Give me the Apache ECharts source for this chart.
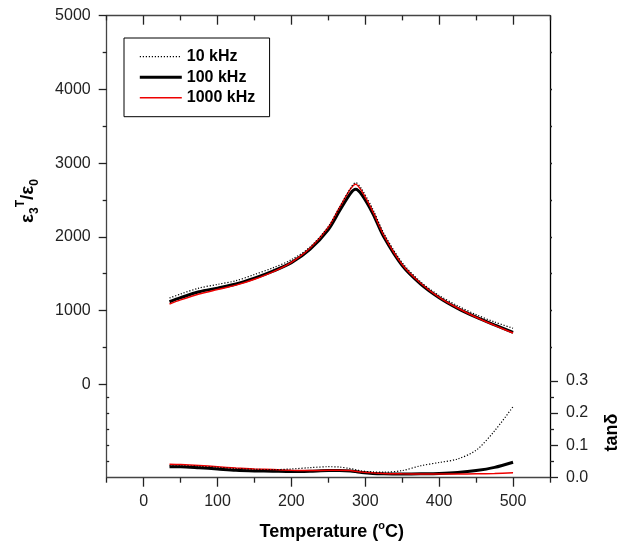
<!DOCTYPE html>
<html><head><meta charset="utf-8">
<script src="https://cdn.jsdelivr.net/npm/echarts@6/dist/echarts.min.js"></script>
<style>html,body{margin:0;padding:0;background:#fff}#c{width:629px;height:545px}</style>
</head><body><div id="c"></div>
<script>
// ---- data ----
const temperature = [35, 50, 75, 100, 125, 150, 175, 200, 225, 250, 265, 280, 287, 295, 310, 325, 350, 375, 400, 425, 450, 475, 500];
const eps10k   = [1170, 1225, 1305, 1355, 1405, 1490, 1580, 1690, 1860, 2140, 2400, 2660, 2735, 2650, 2380, 2050, 1650, 1390, 1205, 1065, 945, 845, 760];
const eps100k  = [1120, 1175, 1255, 1305, 1360, 1440, 1535, 1650, 1830, 2100, 2350, 2590, 2645, 2575, 2320, 2000, 1610, 1360, 1175, 1030, 910, 805, 705];
const eps1000k = [1090, 1145, 1225, 1285, 1345, 1425, 1525, 1655, 1845, 2130, 2395, 2650, 2715, 2625, 2350, 2025, 1625, 1370, 1180, 1035, 910, 800, 695];
const tan10k   = [0.037, 0.037, 0.035, 0.032, 0.028, 0.026, 0.025, 0.027, 0.031, 0.034, 0.033, 0.028, 0.025, 0.021, 0.018, 0.017, 0.022, 0.037, 0.047, 0.058, 0.085, 0.145, 0.22];
const tan100k  = [0.034, 0.034, 0.031, 0.027, 0.023, 0.021, 0.020, 0.019, 0.020, 0.022, 0.022, 0.021, 0.019, 0.016, 0.013, 0.012, 0.0115, 0.012, 0.013, 0.016, 0.022, 0.032, 0.048];
const tan1000k = [0.042, 0.041, 0.038, 0.034, 0.030, 0.027, 0.025, 0.023, 0.022, 0.023, 0.023, 0.022, 0.020, 0.018, 0.015, 0.013, 0.012, 0.0115, 0.0115, 0.0115, 0.012, 0.013, 0.015];
const seriesNames = ['10 kHz', '100 kHz', '1000 kHz'];
const xMajorTicks = [0, 100, 200, 300, 400, 500];
const xMinorTicks = [-50, 50, 150, 250, 350, 450, 550];
const epsMajorTicks = [0, 1000, 2000, 3000, 4000, 5000];
const epsMinorTicks = [500, 1500, 2500, 3500, 4500];
const epsRightTicks = [500, 1000, 1500, 2000, 2500, 3000, 3500, 4000, 4500];
const tanMajorTicks = [0, 0.1, 0.2, 0.3];
const tanMinorTicks = [0.05, 0.15, 0.25];
const tanLeftTicks = [0.05, 0.1, 0.15, 0.2, 0.25];

// ---- chart ----
const FONT = '"Liberation Sans", Arial, Helvetica, sans-serif';
const pairs = (xs, ys) => xs.map((x, i) => [x, ys[i]]);
const X_MIN = -50, X_MAX = 550;
const EPS_MIN = -1267, EPS_MAX = 5000;
const TAN_MIN = 0, TAN_MAX = 1.43;

function xAx(pos, ticks, len, inside, showLine, labels) {
  return {
    type: 'value', position: pos, min: X_MIN, max: X_MAX,
    axisLine: { show: showLine, onZero: false, lineStyle: { color: '#444', width: 1.3 } },
    axisTick: { show: true, inside: inside, length: len, customValues: ticks, lineStyle: { color: '#222', width: 1.3 } },
    axisLabel: labels ? { show: true, customValues: ticks, margin: 16, fontSize: 16, color: '#222', fontFamily: FONT } : { show: false },
    splitLine: { show: false }
  };
}
function yAx(pos, mn, mx, ticks, len, inside, showLine, lineColor, labels, fmt) {
  return {
    type: 'value', position: pos, min: mn, max: mx,
    axisLine: { show: showLine, onZero: false, lineStyle: { color: lineColor, width: 1.3 } },
    axisTick: { show: true, inside: inside, length: len, customValues: ticks, lineStyle: { color: '#222', width: 1.3 } },
    axisLabel: labels ? { show: true, customValues: ticks, margin: 16, fontSize: 16, color: '#222', fontFamily: FONT, formatter: fmt } : { show: false },
    splitLine: { show: false }
  };
}

const chart = echarts.init(document.getElementById('c'), null, { renderer: 'canvas' });
const lineStyles = {
  '10 kHz': { color: '#000', width: 1.2, type: [1.2, 1.8] },
  '100 kHz': { color: '#000', width: 3 },
  '1000 kHz': { color: '#ee0000', width: 1.5 }
};
function mk(name, yIdx, data) {
  return {
    name: name, type: 'line', xAxisIndex: 0, yAxisIndex: yIdx, data: data,
    symbol: 'none', showSymbol: false, smooth: 0.3,
    lineStyle: lineStyles[name], itemStyle: { color: 'rgba(0,0,0,0)' }, emphasis: { disabled: true }
  };
}

chart.setOption({
  animation: false,
  backgroundColor: '#fff',
  grid: { left: 106.7, right: 79, top: 15.7, bottom: 67.3, containLabel: false, outerBoundsMode: 'none' },
  xAxis: [
    xAx('bottom', xMajorTicks, 9, false, true, true),
    xAx('bottom', xMinorTicks, 5, false, false, false),
    xAx('top', xMajorTicks, 9, true, true, false),
    xAx('top', xMinorTicks, 4.7, true, false, false)
  ],
  yAxis: [
    yAx('left', EPS_MIN, EPS_MAX, epsMajorTicks, 8, false, true, '#444', true, v => String(v)),
    yAx('left', EPS_MIN, EPS_MAX, epsMinorTicks, 4, false, false, '#444', false),
    yAx('left', TAN_MIN, TAN_MAX, tanLeftTicks, 2.5, true, false, '#444', false),
    yAx('right', TAN_MIN, TAN_MAX, tanMajorTicks, 8, false, true, '#000', true, v => v.toFixed(1)),
    yAx('right', TAN_MIN, TAN_MAX, tanMinorTicks, 4, false, false, '#000', false),
    yAx('right', EPS_MIN, EPS_MAX, epsRightTicks, 2, false, false, '#000', false)
  ],
  legend: {
    data: seriesNames.map(n => ({ name: n, lineStyle: Object.assign({}, lineStyles[n]) })),
    orient: 'vertical', left: 124, top: 38,
    padding: [10.7, 14.3, 11, 14.3], itemWidth: 42, itemHeight: 16, itemGap: 4.5,
    borderColor: '#000', borderWidth: 1, backgroundColor: '#fff',
    itemStyle: { opacity: 0 },
    textStyle: { fontSize: 16, fontWeight: 'bold', color: '#000', fontFamily: FONT },
    selectedMode: false
  },
  series: [
    mk('100 kHz', 0, pairs(temperature, eps100k)),
    mk('100 kHz', 3, pairs(temperature, tan100k)),
    mk('1000 kHz', 0, pairs(temperature, eps1000k)),
    mk('1000 kHz', 3, pairs(temperature, tan1000k)),
    mk('10 kHz', 0, pairs(temperature, eps10k)),
    mk('10 kHz', 3, pairs(temperature, tan10k))
  ],
  graphic: [
    {
      type: 'text', x: 28, y: 201, rotation: Math.PI / 2,
      style: {
        text: '{e|ε}{s|3}{p|T}{e|/ε}{s|0}',
        align: 'center', verticalAlign: 'middle', textAlign: 'center', textVerticalAlign: 'middle',
        fill: '#000', font: 'bold 18px ' + FONT,
        rich: {
          e: { fontSize: 19, fontWeight: 'bold', fontFamily: FONT, lineHeight: 26, verticalAlign: 'middle', fill: '#000' },
          s: { fontSize: 12, fontWeight: 'bold', fontFamily: FONT, lineHeight: 12, verticalAlign: 'bottom', fill: '#000' },
          p: { fontSize: 12, fontWeight: 'bold', fontFamily: FONT, lineHeight: 12, verticalAlign: 'top', fill: '#000' }
        }
      }
    },
    {
      type: 'text', x: 331.7, y: 531.7,
      style: {
        text: '{t|Temperature (}{p|o}{t|C)}',
        align: 'center', verticalAlign: 'middle', textAlign: 'center', textVerticalAlign: 'middle',
        fill: '#000', font: 'bold 18px ' + FONT,
        rich: {
          t: { fontSize: 18, fontWeight: 'bold', fontFamily: FONT, lineHeight: 22, verticalAlign: 'middle', fill: '#000' },
          p: { fontSize: 11, fontWeight: 'bold', fontFamily: FONT, lineHeight: 11, verticalAlign: 'top', fill: '#000' }
        }
      }
    },
    {
      type: 'text', x: 612.5, y: 432.5, rotation: Math.PI / 2,
      style: {
        text: 'tanδ', align: 'center', verticalAlign: 'middle', textAlign: 'center', textVerticalAlign: 'middle',
        fill: '#000', font: 'bold 18px ' + FONT
      }
    }
  ]
});
</script>
</body></html>
